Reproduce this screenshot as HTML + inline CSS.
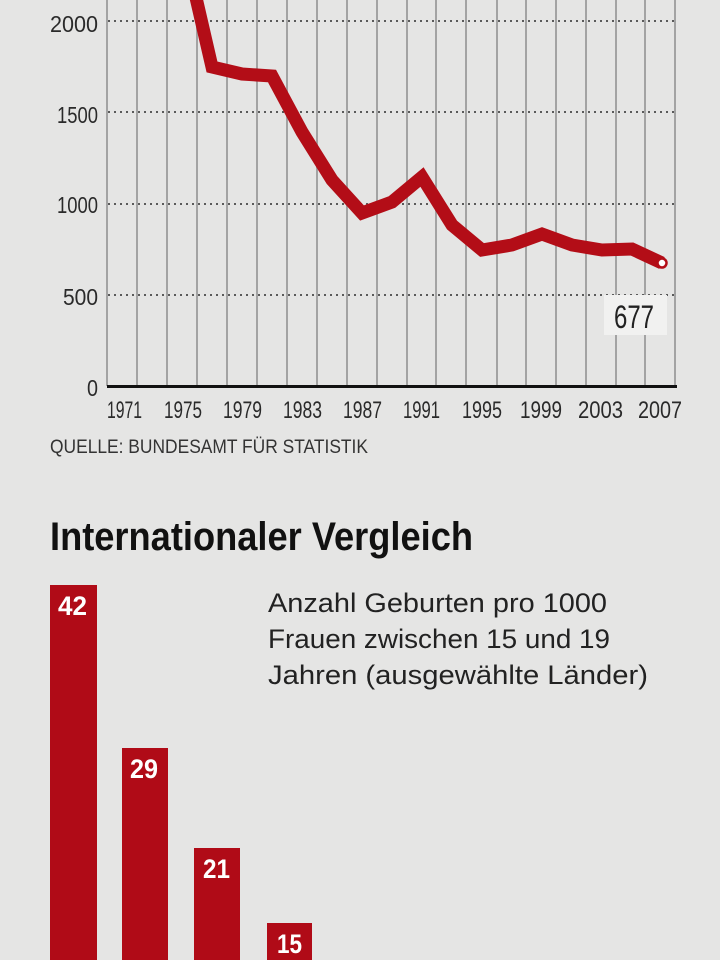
<!DOCTYPE html>
<html>
<head>
<meta charset="utf-8">
<style>
html,body{margin:0;padding:0;background:#e5e5e4;width:720px;height:960px;overflow:hidden;}
svg{display:block;}
text{font-family:"Liberation Sans Narrow","Liberation Sans",sans-serif;}
</style>
</head>
<body>
<svg width="720" height="960" viewBox="0 0 720 960" xmlns="http://www.w3.org/2000/svg">
<rect x="0" y="0" width="720" height="960" fill="#e5e5e4"/>
<!-- vertical grid -->
<g stroke="#a3a3a3" stroke-width="2">
<line x1="107" y1="0" x2="107" y2="386"/>
<line x1="137" y1="0" x2="137" y2="386"/>
<line x1="167" y1="0" x2="167" y2="386"/>
<line x1="197" y1="0" x2="197" y2="386"/>
<line x1="227" y1="0" x2="227" y2="386"/>
<line x1="257" y1="0" x2="257" y2="386"/>
<line x1="287" y1="0" x2="287" y2="386"/>
<line x1="317" y1="0" x2="317" y2="386"/>
<line x1="347" y1="0" x2="347" y2="386"/>
<line x1="377" y1="0" x2="377" y2="386"/>
<line x1="407" y1="0" x2="407" y2="386"/>
<line x1="436" y1="0" x2="436" y2="386"/>
<line x1="466" y1="0" x2="466" y2="386"/>
<line x1="497" y1="0" x2="497" y2="386"/>
<line x1="526" y1="0" x2="526" y2="386"/>
<line x1="556" y1="0" x2="556" y2="386"/>
<line x1="586" y1="0" x2="586" y2="386"/>
<line x1="616" y1="0" x2="616" y2="386"/>
<line x1="645" y1="0" x2="645" y2="386"/>
<line x1="675" y1="0" x2="675" y2="386"/>
</g>
<!-- horizontal dotted grid -->
<g stroke="#5a5a5a" stroke-width="2" stroke-dasharray="2 4">
<line x1="108" y1="21" x2="677" y2="21"/>
<line x1="108" y1="112" x2="677" y2="112"/>
<line x1="108" y1="204" x2="677" y2="204"/>
<line x1="108" y1="295" x2="677" y2="295"/>
</g>
<!-- label box 677 -->
<rect x="604" y="295" width="63" height="40" fill="#f1f1f0"/>
<text x="614" y="328" font-size="32" fill="#222" textLength="40" lengthAdjust="spacingAndGlyphs">677</text>
<!-- baseline -->
<line x1="107" y1="386.5" x2="677" y2="386.5" stroke="#111" stroke-width="3"/>
<!-- y labels -->
<g fill="#2a2a2a" font-size="23">
<text x="50" y="32" textLength="48" lengthAdjust="spacingAndGlyphs">2000</text>
<text x="57" y="123" textLength="41" lengthAdjust="spacingAndGlyphs">1500</text>
<text x="57" y="213" textLength="41" lengthAdjust="spacingAndGlyphs">1000</text>
<text x="63" y="305" textLength="35" lengthAdjust="spacingAndGlyphs">500</text>
<text x="87" y="396" textLength="11" lengthAdjust="spacingAndGlyphs">0</text>
</g>
<!-- x labels -->
<g fill="#2a2a2a" font-size="24">
<text x="107" y="418" textLength="35" lengthAdjust="spacingAndGlyphs">1971</text>
<text x="164" y="418" textLength="38" lengthAdjust="spacingAndGlyphs">1975</text>
<text x="223" y="418" textLength="39" lengthAdjust="spacingAndGlyphs">1979</text>
<text x="283" y="418" textLength="39" lengthAdjust="spacingAndGlyphs">1983</text>
<text x="343" y="418" textLength="39" lengthAdjust="spacingAndGlyphs">1987</text>
<text x="403" y="418" textLength="37" lengthAdjust="spacingAndGlyphs">1991</text>
<text x="462" y="418" textLength="40" lengthAdjust="spacingAndGlyphs">1995</text>
<text x="520" y="418" textLength="42" lengthAdjust="spacingAndGlyphs">1999</text>
<text x="578" y="418" textLength="45" lengthAdjust="spacingAndGlyphs">2003</text>
<text x="638" y="418" textLength="44" lengthAdjust="spacingAndGlyphs">2007</text>
</g>
<!-- data line -->
<polyline fill="none" stroke="#b30d17" stroke-width="13" stroke-linejoin="miter" stroke-miterlimit="3"
points="182,-63 212,67 242,74 272,76 302,132 332,180 362,213 392,202 422,177 452,225 482,250 512,245 542,234 572,245 602,250 632,249 662,263"/>
<circle cx="662" cy="263" r="4.5" fill="#ffffff" stroke="#b30d17" stroke-width="2.5"/>
<!-- source -->
<text x="50" y="453" font-size="19" fill="#333" textLength="318" lengthAdjust="spacingAndGlyphs">QUELLE: BUNDESAMT FÜR STATISTIK</text>
<!-- title -->
<text x="50" y="550" font-size="40" font-weight="bold" fill="#111" textLength="423" lengthAdjust="spacingAndGlyphs">Internationaler Vergleich</text>
<!-- description -->
<g fill="#222" font-size="27">
<text x="268" y="612" textLength="339" lengthAdjust="spacingAndGlyphs">Anzahl Geburten pro 1000</text>
<text x="268" y="648" textLength="342" lengthAdjust="spacingAndGlyphs">Frauen zwischen 15 und 19</text>
<text x="268" y="684" textLength="380" lengthAdjust="spacingAndGlyphs">Jahren (ausgewählte Länder)</text>
</g>
<!-- bars -->
<g fill="#b00b17">
<rect x="50" y="585" width="47" height="375"/>
<rect x="122" y="748" width="46" height="212"/>
<rect x="194" y="848" width="46" height="112"/>
<rect x="267" y="923" width="45" height="37"/>
</g>
<g fill="#ffffff" font-size="27" font-weight="bold">
<text x="58" y="615" textLength="29" lengthAdjust="spacingAndGlyphs">42</text>
<text x="130" y="778" textLength="28" lengthAdjust="spacingAndGlyphs">29</text>
<text x="203" y="878" textLength="27" lengthAdjust="spacingAndGlyphs">21</text>
<text x="277" y="953" textLength="25" lengthAdjust="spacingAndGlyphs">15</text>
</g>
</svg>
</body>
</html>
